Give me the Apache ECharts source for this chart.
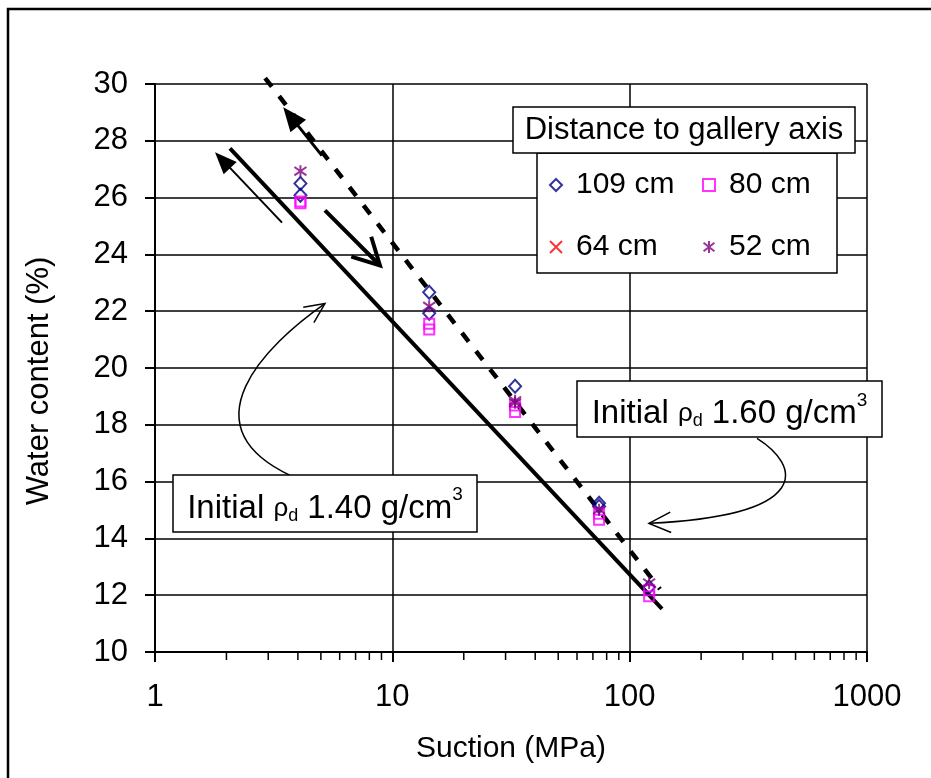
<!DOCTYPE html>
<html>
<head>
<meta charset="utf-8">
<script src="https://cdn.jsdelivr.net/npm/echarts@6/dist/echarts.min.js"></script>
<style>
  html, body { margin: 0; padding: 0; background: #fff; }
  #chart { width: 931px; height: 778px; }
</style>
</head>
<body>
<div id="chart"></div>
<script>
// Measured water content (%) against suction (MPa), by distance to the gallery axis
const x109 = [4.1, 4.1, 14.3, 14.3, 32.9, 74.3, 74.3, 120.8];
const y109 = [26.50, 26.08, 22.67, 21.93, 19.36, 15.24, 15.12, 12.29];
const x80 = [4.1, 4.1, 14.3, 14.3, 32.9, 32.9, 74.3, 74.3, 120.8, 120.8];
const y80 = [25.80, 25.86, 21.56, 21.36, 18.68, 18.45, 14.87, 14.66, 12.17, 11.96];
const x64 = [];
const y64 = [];
const x52 = [4.1, 14.3, 32.9, 32.9, 74.3, 120.8];
const y52 = [26.93, 22.17, 18.85, 18.78, 15.01, 12.43];

// Retention lines for the two initial dry densities (end points)
const fit140X = [2.07, 136.9];
const fit140Y = [27.73, 11.52];
const fit160X = [2.91, 134.2];
const fit160Y = [30.21, 12.21];

// Axis ranges and minor tick positions of the logarithmic suction axis
const yMin = 10, yMax = 30, yStep = 2;
const xMin = 1, xMax = 1000;
const minorTickValues = [2, 3, 4, 5, 6, 7, 8, 9, 20, 30, 40, 50, 60, 70, 80, 90, 200, 300, 400, 500, 600, 700, 800, 900];

// Legend entries
const legendLeft = ['109 cm', '64 cm'];
const legendRight = ['80 cm', '52 cm'];
const legendTitle = 'Distance to gallery axis';

const FONT = 'Liberation Sans';
const CROSS = 'path://M0,0L10,10M10,0L0,10';
const STAR = 'path://M0.5,1.5L9.5,8.5M9.5,1.5L0.5,8.5M5,0L5,10';

const styles = {
  '109 cm': { symbol: 'diamond', size: [12, 13], item: { color: 'rgba(0,0,0,0)', borderColor: '#000080', borderWidth: 2 } },
  '80 cm':  { symbol: 'rect', size: 10, item: { color: 'rgba(0,0,0,0)', borderColor: '#ff00ff', borderWidth: 2 } },
  '64 cm':  { symbol: CROSS, size: 11, item: { color: 'rgba(0,0,0,0)', borderColor: '#ff0000', borderWidth: 2 } },
  '52 cm':  { symbol: STAR, size: 12, item: { color: 'rgba(0,0,0,0)', borderColor: '#800080', borderWidth: 2 } }
};

const zip = (xs, ys) => xs.map((x, i) => [x, ys[i]]);

function scatter(name, xs, ys) {
  const s = styles[name];
  return {
    name, type: 'scatter', data: zip(xs, ys),
    symbol: s.symbol, symbolSize: s.size, itemStyle: s.item, z: 4,
    emphasis: { disabled: true }
  };
}

function legendBlock(names, left) {
  return {
    orient: 'vertical', left, top: 164, itemWidth: 12, itemHeight: 12, itemGap: 30,
    selectedMode: false, z: 20,
    data: names.map(n => ({ name: n, icon: styles[n].symbol, itemStyle: styles[n].item })),
    textStyle: { fontFamily: FONT, fontSize: 30, color: '#000', lineHeight: 32, padding: [0, 0, 0, 9] }
  };
}

const chart = echarts.init(document.getElementById('chart'), null, { renderer: 'canvas' });

chart.setOption({
  animation: false,
  backgroundColor: '#fff',
  grid: { left: 155, right: 64, top: 84, bottom: 126 },
  xAxis: {
    type: 'log', logBase: 10, min: xMin, max: xMax,
    axisLine: { lineStyle: { color: '#000', width: 2 } },
    axisTick: { length: 10, lineStyle: { color: '#000', width: 2 } },
    minorTick: { show: false },
    axisLabel: { margin: 30, fontFamily: FONT, fontSize: 31, color: '#000', formatter: v => String(Math.round(v)) },
    splitLine: { show: true, lineStyle: { color: '#000', width: 1.5 } },
    name: 'Suction (MPa)', nameLocation: 'middle', nameGap: 82,
    nameTextStyle: { fontFamily: FONT, fontSize: 30, color: '#000' }
  },
  yAxis: {
    type: 'value', min: yMin, max: yMax, interval: yStep,
    axisLine: { show: true, lineStyle: { color: '#000', width: 2 } },
    axisTick: { show: true, length: 10, lineStyle: { color: '#000', width: 2 } },
    axisLabel: { margin: 27, fontFamily: FONT, fontSize: 31, color: '#000' },
    splitLine: { show: true, lineStyle: { color: '#000', width: 1.5 } },
    name: 'Water content (%)', nameLocation: 'middle', nameGap: 100,
    nameTextStyle: { fontFamily: FONT, fontSize: 31, color: '#000', padding: [0, 26, 0, 0] }
  },
  legend: [legendBlock(legendLeft, 544), legendBlock(legendRight, 697)],
  series: [
    {
      name: 'Initial 1.40', type: 'line', data: zip(fit140X, fit140Y), symbol: 'none',
      lineStyle: { color: '#000', width: 4 }, z: 3, silent: true
    },
    {
      name: 'Initial 1.60', type: 'line', data: zip(fit160X, fit160Y), symbol: 'none', clip: false,
      lineStyle: { color: '#000', width: 4.5, type: [11, 12], cap: 'butt' }, z: 3, silent: true
    },
    scatter('109 cm', x109, y109),
    scatter('80 cm', x80, y80),
    scatter('64 cm', x64, y64),
    scatter('52 cm', x52, y52),
    {
      name: 'minor ticks', type: 'custom', clip: false, silent: true, z: 5,
      data: minorTickValues.map(v => [v, yMin]),
      encode: { x: 0, y: 1 },
      renderItem: (params, api) => {
        const p = api.coord([api.value(0), api.value(1)]);
        return { type: 'line', shape: { x1: p[0], y1: p[1], x2: p[0], y2: p[1] + 8 }, style: { stroke: '#000', lineWidth: 1.5 } };
      }
    }
  ]
});

// Annotation geometry, placed in data coordinates (suction, water content)
const arrowUp160 = { tail: [5.05, 27.48], tip: [3.47, 29.18] };
const arrowDown160 = { tail: [5.20, 25.55], tip: [8.87, 23.61] };
const arrowUp140 = { tail: [3.43, 25.12], tip: [1.79, 27.60] };
const curve140 = [[3.71, 16.22], [1.338, 17.98], [2.91, 20.80], [5.20, 22.27]];
const curve160 = [[344, 17.52], [522, 16.57], [604, 14.81], [120.6, 14.53]];

const toPx = v => chart.convertToPixel({ gridIndex: 0 }, v);

function unit(a, b) {
  const dx = b[0] - a[0], dy = b[1] - a[1], L = Math.hypot(dx, dy);
  return [dx / L, dy / L];
}

function filledArrow(spec, headLen, half, width) {
  const a = toPx(spec.tail), b = toPx(spec.tip);
  const [ux, uy] = unit(a, b);
  const nx = -uy, ny = ux;
  const bx = b[0] - ux * headLen, by = b[1] - uy * headLen;
  return [
    { type: 'line', z: 6, shape: { x1: a[0], y1: a[1], x2: bx + ux * 3, y2: by + uy * 3 }, style: { stroke: '#000', lineWidth: width } },
    { type: 'polygon', z: 6, shape: { points: [[b[0], b[1]], [bx + nx * half, by + ny * half], [bx - nx * half, by - ny * half]] }, style: { fill: '#000' } }
  ];
}

function openHead(tip, dir, len, angleDeg, width) {
  const ang = angleDeg * Math.PI / 180;
  const bx = -dir[0], by = -dir[1];
  const rot = s => [bx * Math.cos(s * ang) - by * Math.sin(s * ang), bx * Math.sin(s * ang) + by * Math.cos(s * ang)];
  const r1 = rot(1), r2 = rot(-1);
  return {
    type: 'polyline', z: 6,
    shape: { points: [[tip[0] + r1[0] * len, tip[1] + r1[1] * len], tip, [tip[0] + r2[0] * len, tip[1] + r2[1] * len]] },
    style: { stroke: '#000', lineWidth: width, fill: null, lineJoin: 'miter' }
  };
}

function openArrow(spec, len, angleDeg, width) {
  const a = toPx(spec.tail), b = toPx(spec.tip);
  const d = unit(a, b);
  return [
    { type: 'line', z: 6, shape: { x1: a[0], y1: a[1], x2: b[0] - d[0], y2: b[1] - d[1] }, style: { stroke: '#000', lineWidth: width } },
    openHead(b, d, len, angleDeg, width)
  ];
}

function curvedArrow(pts, len, angleDeg, width) {
  const p = pts.map(toPx);
  return [
    {
      type: 'bezierCurve', z: 6,
      shape: { x1: p[0][0], y1: p[0][1], cpx1: p[1][0], cpy1: p[1][1], cpx2: p[2][0], cpy2: p[2][1], x2: p[3][0], y2: p[3][1] },
      style: { stroke: '#000', lineWidth: width, fill: null }
    },
    openHead(p[3], unit(p[2], p[3]), len, angleDeg, width)
  ];
}

// Text boxes: "Initial ρd ... g/cm³" with subscript d and superscript 3
const richStyles = {
  a: { fontFamily: FONT, fontSize: 33, color: '#000', lineHeight: 46 },
  r: { fontFamily: FONT, fontSize: 26, color: '#000', verticalAlign: 'middle' },
  s: { fontFamily: FONT, fontSize: 18, color: '#000', verticalAlign: 'middle', padding: [15, 0, 0, 0] },
  p: { fontFamily: FONT, fontSize: 19, color: '#000', verticalAlign: 'top' }
};

function textBox(x, y, w, h, value) {
  return [
    { type: 'rect', z: 10, shape: { x, y, width: w, height: h }, style: { fill: '#fff', stroke: '#000', lineWidth: 1.5 } },
    {
      type: 'text', z: 11, x: x + w / 2, y: y + h / 2 + 5,
      style: {
        text: '{a|Initial }{r|ρ}{s|d}{a| ' + value + ' g/cm}{p|3}',
        rich: richStyles, align: 'center', verticalAlign: 'middle'
      }
    }
  ];
}

const graphics = [
  // outer frame
  { type: 'rect', z: 10, shape: { x: 8, y: 9, width: 1000, height: 1000 }, style: { fill: null, stroke: '#000', lineWidth: 2.5 } },
  // legend frame and title
  { type: 'rect', z: 10, shape: { x: 537, y: 153, width: 300, height: 120 }, style: { fill: '#fff', stroke: '#000', lineWidth: 1.5 } },
  { type: 'rect', z: 11, shape: { x: 513, y: 107, width: 342, height: 46 }, style: { fill: '#fff', stroke: '#000', lineWidth: 1.5 } },
  { type: 'text', z: 12, x: 684, y: 130, style: { text: legendTitle, fontFamily: FONT, fontSize: 31, fill: '#000', align: 'center', verticalAlign: 'middle' } },
  ...textBox(173, 475, 304, 57, '1.40'),
  ...textBox(577, 381, 305, 56, '1.60'),
  ...filledArrow(arrowUp160, 24, 10, 3),
  ...openArrow(arrowDown160, 30, 28, 4),
  ...filledArrow(arrowUp140, 22, 9, 2),
  ...curvedArrow(curve140, 22, 25, 1.5),
  ...curvedArrow(curve160, 24, 25, 1.5)
];

chart.setOption({ graphic: graphics });
</script>
</body>
</html>
